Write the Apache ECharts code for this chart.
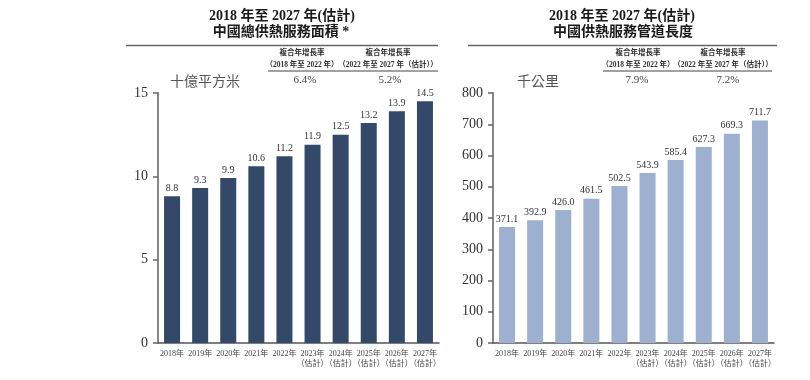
<!DOCTYPE html>
<html>
<head>
<meta charset="utf-8">
<script src="https://cdn.jsdelivr.net/npm/echarts@6/dist/echarts.min.js"></script>
<style>html,body{margin:0;padding:0;background:#fff}#c{width:810px;height:380px}</style>
</head>
<body>
<div id="c"></div>
<script>
var categories = ['2018年','2019年','2020年','2021年','2022年','2023年\n（估計）','2024年\n（估計）','2025年\n（估計）','2026年\n（估計）','2027年\n（估計）'];
var areaValues = [8.8, 9.3, 9.9, 10.6, 11.2, 11.9, 12.5, 13.2, 13.9, 14.5];
var pipeValues = [371.1, 392.9, 426.0, 461.5, 502.5, 543.9, 585.4, 627.3, 669.3, 711.7];
var leftTicks = [0, 5, 10, 15];
var rightTicks = [0, 100, 200, 300, 400, 500, 600, 700, 800];
var leftTitle = ['2018 年至 2027 年(估計)', '中國總供熱服務面積 *'];
var rightTitle = ['2018 年至 2027 年(估計)', '中國供熱服務管道長度'];
var cagrHead = '複合年增長率';
var cagrPeriods = ['（2018 年至 2022 年）', '（2022 年至 2027 年（估計））'];
var leftCagr = ['6.4%', '5.2%'];
var rightCagr = ['7.9%', '7.2%'];
var leftUnit = '十億平方米';
var rightUnit = '千公里';

var FF = '"Liberation Serif","Noto Sans CJK TC",serif';
var chart = echarts.init(document.getElementById('c'), null, {renderer: 'canvas'});

function txt(text, x, y, font, color, align) {
  return {type: 'text', silent: true, style: {text: text, x: x, y: y, font: font, fill: color || '#222', textAlign: align || 'center', textVerticalAlign: 'middle'}};
}
function rule(x1, x2, y, w, c) {
  return {type: 'line', silent: true, shape: {x1: x1, y1: y, x2: x2, y2: y}, style: {stroke: c || '#666', lineWidth: w || 1.5}};
}

var graphics = [
  txt(leftTitle[0], 282, 16, 'bold 14px ' + FF, '#1a1a1a'),
  txt(leftTitle[1], 281, 32, 'bold 14px ' + FF, '#1a1a1a'),
  txt(rightTitle[0], 622, 16, 'bold 14px ' + FF, '#1a1a1a'),
  txt(rightTitle[1], 623, 32, 'bold 14px ' + FF, '#1a1a1a'),
  rule(126, 438, 45.5, 1.5, '#666'),
  rule(468, 777, 45.5, 1.5, '#666'),
  txt(cagrHead, 302, 53.5, 'bold 7.5px ' + FF, '#333'),
  txt(cagrPeriods[0], 302, 65, 'bold 7.5px ' + FF, '#333'),
  txt(cagrHead, 388, 53.5, 'bold 7.5px ' + FF, '#333'),
  txt(cagrPeriods[1], 388, 65, 'bold 7.5px ' + FF, '#333'),
  rule(268, 438, 71, 1, '#444'),
  txt(leftCagr[0], 305, 80, '11px ' + FF, '#444'),
  txt(leftCagr[1], 390, 80, '11px ' + FF, '#444'),
  txt(cagrHead, 638, 53.5, 'bold 7.5px ' + FF, '#333'),
  txt(cagrPeriods[0], 638, 65, 'bold 7.5px ' + FF, '#333'),
  txt(cagrHead, 723, 53.5, 'bold 7.5px ' + FF, '#333'),
  txt(cagrPeriods[1], 723, 65, 'bold 7.5px ' + FF, '#333'),
  rule(603, 772, 71, 1, '#444'),
  txt(rightCagr[0], 637, 80, '11px ' + FF, '#444'),
  txt(rightCagr[1], 728, 80, '11px ' + FF, '#444'),
  txt(leftUnit, 170, 81, '14px "Noto Sans CJK TC",sans-serif', '#555', 'left'),
  txt(rightUnit, 517, 81, '14px "Noto Sans CJK TC",sans-serif', '#555', 'left')
];

function xAx(idx) {
  return {
    type: 'category', gridIndex: idx, data: categories, boundaryGap: true,
    axisLine: {lineStyle: {color: '#555', width: 1.5}},
    axisTick: {show: false},
    axisLabel: {fontFamily: FF, fontSize: 8, color: '#444', margin: 6, lineHeight: 10, interval: 0}
  };
}
function yAx(idx, max, interval) {
  return {
    type: 'value', gridIndex: idx, min: 0, max: max, interval: interval,
    splitLine: {show: false},
    axisLine: {show: true, lineStyle: {color: '#888', width: 2}},
    axisTick: {show: true, length: 5, inside: false, lineStyle: {color: '#666', width: 1.5}},
    axisLabel: {fontFamily: FF, fontSize: 14, color: '#333', margin: 10}
  };
}

chart.setOption({
  animation: false,
  backgroundColor: '#fff',
  grid: [
    {left: 158, top: 93, width: 281, height: 250, containLabel: false, outerBoundsMode: 'none'},
    {left: 493, top: 93, width: 281, height: 250, containLabel: false, outerBoundsMode: 'none'}
  ],
  xAxis: [xAx(0), xAx(1)],
  yAxis: [yAx(0, leftTicks[leftTicks.length - 1], leftTicks[1] - leftTicks[0]),
          yAx(1, rightTicks[rightTicks.length - 1], rightTicks[1] - rightTicks[0])],
  series: [
    {type: 'bar', xAxisIndex: 0, yAxisIndex: 0, data: areaValues, barWidth: 16,
     itemStyle: {color: '#34496a'},
     label: {show: true, position: 'top', distance: 3, fontFamily: FF, fontSize: 10, color: '#333',
             formatter: function (p) { return p.value.toFixed(1); }}},
    {type: 'bar', xAxisIndex: 1, yAxisIndex: 1, data: pipeValues, barWidth: 16,
     itemStyle: {color: '#9eb0cf'},
     label: {show: true, position: 'top', distance: 3, fontFamily: FF, fontSize: 10, color: '#333',
             formatter: function (p) { return p.value.toFixed(1); }}}
  ],
  graphic: graphics
});
</script>
</body>
</html>
